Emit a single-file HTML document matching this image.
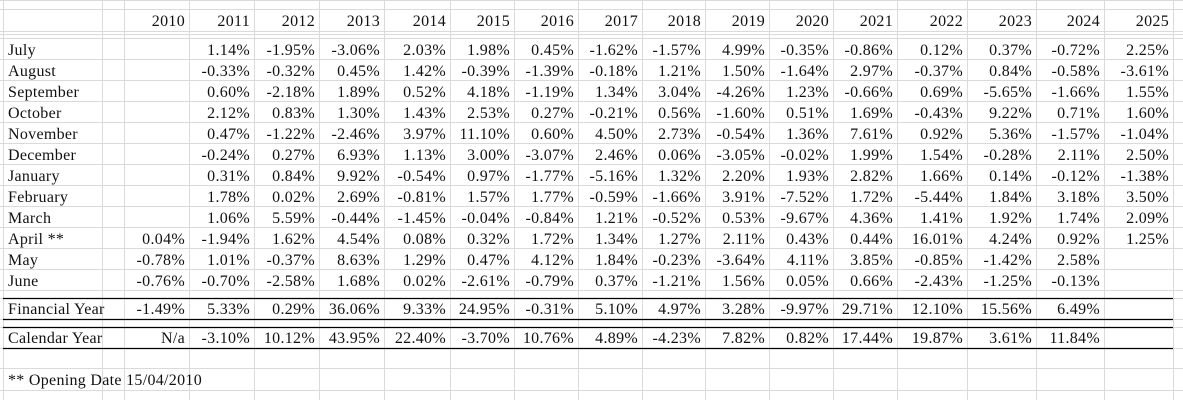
<!DOCTYPE html>
<html><head><meta charset="utf-8">
<style>
html,body{margin:0;padding:0;background:#fff;}
svg{display:block;}
text{font-family:"Liberation Serif",serif;font-size:16px;letter-spacing:0.3px;fill:#111;}
</style></head>
<body>
<svg id="sheet" width="1183" height="400" xmlns="http://www.w3.org/2000/svg"></svg>
<script>
const years=["2010","2011","2012","2013","2014","2015","2016","2017","2018","2019","2020","2021","2022","2023","2024","2025"];
const julyVals=["","1.14%","-1.95%","-3.06%","2.03%","1.98%","0.45%","-1.62%","-1.57%","4.99%","-0.35%","-0.86%","0.12%","0.37%","-0.72%","2.25%"];
const augustVals=["","-0.33%","-0.32%","0.45%","1.42%","-0.39%","-1.39%","-0.18%","1.21%","1.50%","-1.64%","2.97%","-0.37%","0.84%","-0.58%","-3.61%"];
const septemberVals=["","0.60%","-2.18%","1.89%","0.52%","4.18%","-1.19%","1.34%","3.04%","-4.26%","1.23%","-0.66%","0.69%","-5.65%","-1.66%","1.55%"];
const octoberVals=["","2.12%","0.83%","1.30%","1.43%","2.53%","0.27%","-0.21%","0.56%","-1.60%","0.51%","1.69%","-0.43%","9.22%","0.71%","1.60%"];
const novemberVals=["","0.47%","-1.22%","-2.46%","3.97%","11.10%","0.60%","4.50%","2.73%","-0.54%","1.36%","7.61%","0.92%","5.36%","-1.57%","-1.04%"];
const decemberVals=["","-0.24%","0.27%","6.93%","1.13%","3.00%","-3.07%","2.46%","0.06%","-3.05%","-0.02%","1.99%","1.54%","-0.28%","2.11%","2.50%"];
const januaryVals=["","0.31%","0.84%","9.92%","-0.54%","0.97%","-1.77%","-5.16%","1.32%","2.20%","1.93%","2.82%","1.66%","0.14%","-0.12%","-1.38%"];
const februaryVals=["","1.78%","0.02%","2.69%","-0.81%","1.57%","1.77%","-0.59%","-1.66%","3.91%","-7.52%","1.72%","-5.44%","1.84%","3.18%","3.50%"];
const marchVals=["","1.06%","5.59%","-0.44%","-1.45%","-0.04%","-0.84%","1.21%","-0.52%","0.53%","-9.67%","4.36%","1.41%","1.92%","1.74%","2.09%"];
const aprilVals=["0.04%","-1.94%","1.62%","4.54%","0.08%","0.32%","1.72%","1.34%","1.27%","2.11%","0.43%","0.44%","16.01%","4.24%","0.92%","1.25%"];
const mayVals=["-0.78%","1.01%","-0.37%","8.63%","1.29%","0.47%","4.12%","1.84%","-0.23%","-3.64%","4.11%","3.85%","-0.85%","-1.42%","2.58%",""];
const juneVals=["-0.76%","-0.70%","-2.58%","1.68%","0.02%","-2.61%","-0.79%","0.37%","-1.21%","1.56%","0.05%","0.66%","-2.43%","-1.25%","-0.13%",""];
const financialYearVals=["-1.49%","5.33%","0.29%","36.06%","9.33%","24.95%","-0.31%","5.10%","4.97%","3.28%","-9.97%","29.71%","12.10%","15.56%","6.49%",""];
const calendarYearVals=["N/a","-3.10%","10.12%","43.95%","22.40%","-3.70%","10.76%","4.89%","-4.23%","7.82%","0.82%","17.44%","19.87%","3.61%","11.84%",""];

const monthRows=[["July",julyVals],["August",augustVals],["September",septemberVals],["October",octoberVals],["November",novemberVals],["December",decemberVals],["January",januaryVals],["February",februaryVals],["March",marchVals],["April **",aprilVals],["May",mayVals],["June",juneVals]];

const NS="http://www.w3.org/2000/svg";
const svg=document.getElementById('sheet');
const colX=[3,102,124,189,254,319,384,450,514,578,642,705,769,833,897,967,1036,1104,1173];
const rowY=[0,9,31,34,38,59,80,101,122,143,164,185,206,227,248,269,290,298,319,327,348,368,390,400];

function line(x1,y1,x2,y2,c,w,name){
  const l=document.createElementNS(NS,'line');
  l.setAttribute('x1',x1);l.setAttribute('y1',y1);l.setAttribute('x2',x2);l.setAttribute('y2',y2);
  l.setAttribute('stroke',c);l.setAttribute('stroke-width',w);
  
  
  svg.appendChild(l);
}
function txt(x,y,s,anchor,name){
  const t=document.createElementNS(NS,'text');
  t.setAttribute('x',x);t.setAttribute('y',y);t.setAttribute('text-anchor',anchor);
  t.textContent=s;
  
  
  svg.appendChild(t);
}
colX.concat([1183]).forEach(x=>line(x+0.5,0,x+0.5,400,'#dadada',1,'grid-col-line'));
rowY.forEach(y=>line(0,y+0.5,1183,y+0.5,'#dadada',1,'grid-row-line'));
[298,319,327,348].forEach(y=>line(3,y+0.5,1173,y+0.5,'#000',1.3,'total-border'));

function yearRight(i){return colX[i+3]-4;}
years.forEach((y,i)=>txt(yearRight(i),26,y,'end','year-header'));
monthRows.forEach((r,ri)=>{
  const top=rowY[4+ri];
  txt(8,top+17,r[0],'start','month-label');
  r[1].forEach((v,i)=>{if(v)txt(yearRight(i),top+17,v,'end','month-value');});
});
txt(8,298+16,'Financial Year','start','financial-year-label');
financialYearVals.forEach((v,i)=>{if(v)txt(yearRight(i),298+16,v,'end','financial-year-value');});
txt(8,327+16,'Calendar Year','start','calendar-year-label');
calendarYearVals.forEach((v,i)=>{if(v)txt(yearRight(i),327+16,v,'end','calendar-year-value');});
txt(8,385,'** Opening Date 15/04/2010','start','opening-date-note');
</script>
</body></html>
